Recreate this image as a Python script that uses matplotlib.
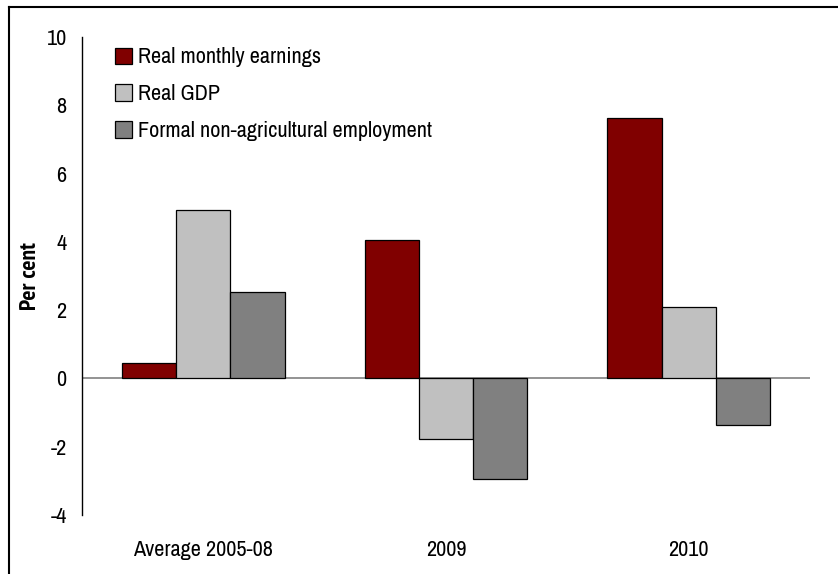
import matplotlib
matplotlib.use("Agg")
import matplotlib.pyplot as plt
from matplotlib import font_manager
from matplotlib.lines import Line2D
import numpy as np

categories = ["Average 2005-08", "2009", "2010"]
series_names = ["Real monthly earnings", "Real GDP", "Formal non-agricultural employment"]
earnings = [0.45, 4.04, 7.62]
gdp = [4.92, -1.76, 2.08]
employment = [2.52, -2.96, -1.35]
yticks = [-4, -2, 0, 2, 4, 6, 8, 10]
colors = ["#800000", "#C0C0C0", "#808080"]

fonts = font_manager.fontManager.ttflist
names = {f.name for f in fonts}
bold_names = {f.name for f in fonts if (f.weight == "bold" or (isinstance(f.weight, int) and f.weight >= 600))}
candidates = ["Liberation Sans Narrow", "Arial Narrow", "Archivo Narrow", "PT Sans Narrow",
              "Roboto Condensed", "Pragati Narrow", "IBM Plex Sans Condensed", "Liberation Sans"]
fam = next((c for c in candidates if c in names), "DejaVu Sans")
bfam = next((c for c in candidates if c in bold_names), fam)
plt.rcParams["font.family"] = [fam, "DejaVu Sans"]

W, H = 838, 574
fig = plt.figure(figsize=(W / 100, H / 100), dpi=100)
ax = fig.add_axes([82 / W, 1 - 515 / H, (810 - 82) / W, (515 - 37) / H])

x = np.arange(len(categories))
bw = 0.223
for i, (vals, name, c) in enumerate(zip([earnings, gdp, employment], series_names, colors)):
    ax.bar(x + (i - 1) * bw, vals, bw, color=c, edgecolor="black", linewidth=0.9, label=name, zorder=3)

ax.set_xlim(-0.5, 2.5)
ax.set_ylim(-4, 10)
ax.set_yticks(yticks)
ax.set_yticklabels([str(t) for t in yticks])
ax.set_xticks(x)
ax.set_xticklabels(categories)
ax.tick_params(axis="y", length=0, pad=11, labelsize=16)
ax.tick_params(axis="x", length=0, pad=18, labelsize=16)
for s in ["top", "right", "bottom"]:
    ax.spines[s].set_visible(False)
ax.spines["left"].set_linewidth(1.0)
ax.axhline(0, color="#808080", linewidth=1.2, zorder=2)
ax.set_ylabel("Per cent", fontsize=17, fontweight="bold", family=[bfam, "DejaVu Sans"])
ax.yaxis.set_label_coords(-41 / 728, 0.5)

leg = ax.legend(loc="upper left", bbox_to_anchor=(0.018, 1.02), frameon=False, fontsize=16,
                handlelength=0.75, handleheight=0.75, handletextpad=0.3, labelspacing=0.76)

# outer frame
fig.add_artist(Line2D([8.5 / W, 8.5 / W], [0, 1 - 7 / H], transform=fig.transFigure, color="black", linewidth=1.5))
fig.add_artist(Line2D([8.5 / W, 1], [1 - 7 / H, 1 - 7 / H], transform=fig.transFigure, color="black", linewidth=1.5))

fig.savefig("out.png", dpi=100)
